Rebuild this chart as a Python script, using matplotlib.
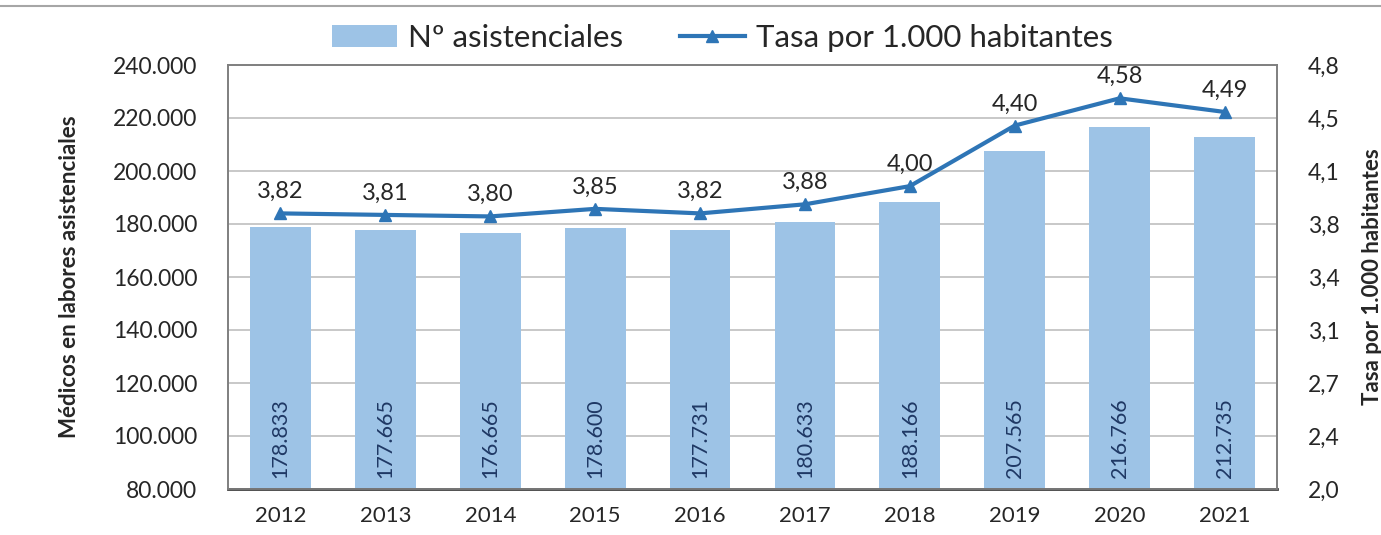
import numpy as np
import matplotlib.pyplot as plt
from matplotlib.ticker import FuncFormatter

plt.rcParams['font.family'] = ['Lato', 'DejaVu Sans']

years = ["2012", "2013", "2014", "2015", "2016", "2017", "2018", "2019", "2020", "2021"]
medicos = [178833, 177665, 176665, 178600, 177731, 180633, 188166, 207565, 216766, 212735]
tasa = [3.82, 3.81, 3.80, 3.85, 3.82, 3.88, 4.00, 4.40, 4.58, 4.49]

bar_color = "#9DC3E6"
line_color = "#2E75B6"
text_color = "#262626"


def miles(v):
    return f"{int(round(v)):,}".replace(",", ".")


def coma(v, nd):
    # redondeo "hacia arriba" como en Excel (4,45 -> 4,5)
    return f"{v + 1e-9:.{nd}f}".replace(".", ",")


fig = plt.figure(figsize=(13.81, 5.35), dpi=100)
ax = fig.add_axes([228 / 1381, 1 - 489 / 535, (1277 - 228) / 1381, (489 - 65) / 535])
ax2 = ax.twinx()

x = np.arange(len(years))
bars = ax.bar(x, medicos, width=0.58, color=bar_color, zorder=2, label="Nº asistenciales")
ax.set_ylim(80000, 240000)
ax.set_yticks(np.arange(80000, 240001, 20000))
ax.yaxis.set_major_formatter(FuncFormatter(lambda v, p: miles(v)))
ax.set_xlim(-0.5, len(years) - 0.5)
ax.set_xticks(x)
ax.set_xticklabels(years)
ax.grid(axis="y", color="#BFBFBF", linewidth=1.2, zorder=0)
ax.set_axisbelow(True)

for xi, v in zip(x, medicos):
    ax.text(xi, 84000, miles(v), rotation=90, ha="center", va="bottom",
            fontsize=15.5, color="#1F3864", zorder=4)

line, = ax2.plot(x, tasa, color=line_color, linewidth=3, marker="^",
                 markersize=9, zorder=5, label="Tasa por 1.000 habitantes")
ax2.set_ylim(2.0, 4.8)
ax2.set_yticks(np.linspace(2.0, 4.8, 9))
ax2.yaxis.set_major_formatter(FuncFormatter(lambda v, p: coma(v, 1)))
for xi, v in zip(x, tasa):
    ax2.annotate(coma(v, 2), (xi, v), xytext=(0, 8),
                 textcoords="offset points", ha="center", va="bottom",
                 fontsize=17, color=text_color)

for a in (ax, ax2):
    for s in a.spines.values():
        s.set_color("#7F7F7F")
        s.set_linewidth(1.2)
    a.tick_params(length=0, labelsize=16.5, colors=text_color)
ax.spines["bottom"].set_color("#404040")
ax.spines["bottom"].set_linewidth(2)
ax.tick_params(axis="x", labelsize=16, pad=12)
ax.tick_params(axis="y", pad=22)
ax2.tick_params(axis="y", pad=22)

ax.set_ylabel("Médicos en labores asistenciales", fontsize=16, fontweight="bold",
              color=text_color, labelpad=24)
ax2.set_ylabel("Tasa por 1.000 habitantes", fontsize=16, fontweight="bold",
               color=text_color, labelpad=16)

fig.legend(handles=[bars, line], loc="center", bbox_to_anchor=(0.523, 1 - 38 / 535),
           ncol=2, frameon=False, fontsize=22.5, handlelength=2.1, columnspacing=1.8,
           handletextpad=0.35, labelcolor=text_color)

fig.add_artist(plt.Line2D([0, 1], [1 - 6 / 535, 1 - 6 / 535], color="#A6A6A6", linewidth=1.5))

fig.savefig("out.png", dpi=100)
